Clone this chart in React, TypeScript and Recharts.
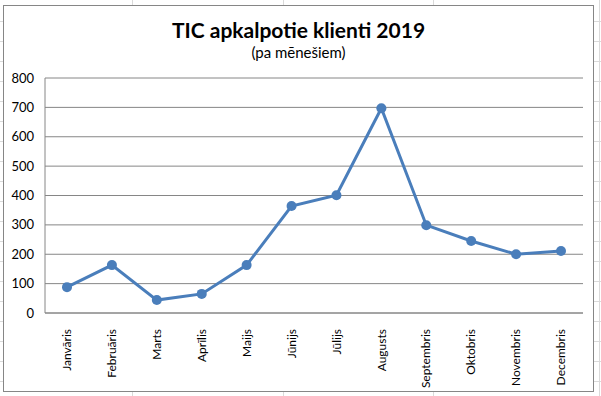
import { LineChart, Line, XAxis, YAxis, CartesianGrid } from 'recharts'

const months = [
  'Janvāris', 'Februāris', 'Marts', 'Aprīlis', 'Maijs', 'Jūnijs',
  'Jūlijs', 'Augusts', 'Septembris', 'Oktobris', 'Novembris', 'Decembris'
]
const clients = [88, 163, 44, 65, 163, 364, 401, 697, 299, 245, 200, 211]
const yTicks = [0, 100, 200, 300, 400, 500, 600, 700, 800]

const data = months.map((m, i) => ({ month: m, value: clients[i] }))

const font = 'Lato, "Liberation Sans", sans-serif'
const sheetLine = '#dadada'

const MonthTick = ({ x, y, payload }: any) => (
  <g transform={`translate(${x},${y + 8})`}>
    <text transform="rotate(-90)" textAnchor="end" dy="0.35em"
      fill="#000" fontSize={12} fontFamily={font}>
      {payload.value}
    </text>
  </g>
)

// faint spreadsheet cell lines around the chart object
const rows = Array.from({ length: 20 }, (_, i) => 21 + i * 20)
const cols = [132, 283, 433, 599]

export default function App() {
  return (
    <div style={{ position: 'absolute', left: 0, top: 0, width: 601, height: 396, background: '#fff', overflow: 'hidden' }}>
      {rows.map(r => (
        <div key={r} style={{ position: 'absolute', left: 0, top: r, width: 601, height: 1, background: sheetLine }} />
      ))}
      {cols.map(c => (
        <div key={c} style={{ position: 'absolute', left: c, top: 0, width: 1, height: 396, background: sheetLine }} />
      ))}
      <div style={{
        position: 'absolute', left: 3, top: 5, width: 589, height: 385,
        border: '1px solid #868686', background: '#fff'
      }}>
        <div style={{
          position: 'absolute', left: 0, width: '100%', top: 11, textAlign: 'center',
          fontFamily: font, fontWeight: 700, fontSize: 21, color: '#000'
        }}>TIC apkalpotie klienti 2019</div>
        <div style={{
          position: 'absolute', left: 0, width: '100%', top: 37, textAlign: 'center',
          fontFamily: font, fontSize: 15, color: '#000'
        }}>(pa mēnešiem)</div>
        <LineChart width={589} height={385} data={data}
          margin={{ top: 72, right: 10, left: 0, bottom: 0 }}>
          <CartesianGrid vertical={false} stroke="#868686" strokeWidth={1} />
          <XAxis dataKey="month" height={78} interval={0} tickLine={false}
            padding={{ left: 22, right: 22 }}
            axisLine={{ stroke: '#868686' }} tick={<MonthTick />} />
          <YAxis width={41} domain={[0, 800]} ticks={yTicks} tickLine={false} tickSize={0}
            tickMargin={11} axisLine={{ stroke: '#868686' }}
            tick={{ fill: '#000', fontSize: 13, fontFamily: font }} />
          <Line type="linear" dataKey="value" stroke="#4a7ebb" strokeWidth={3}
            dot={{ r: 5, fill: '#4a7ebb', stroke: '#4a7ebb', strokeWidth: 0 }}
            isAnimationActive={false} />
        </LineChart>
      </div>
    </div>
  )
}
